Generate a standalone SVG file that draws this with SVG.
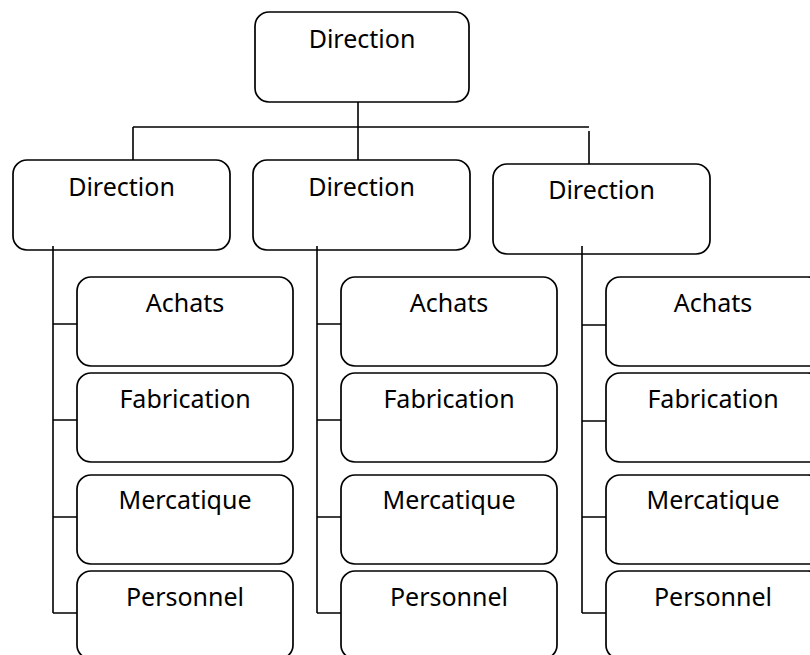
<svg xmlns="http://www.w3.org/2000/svg" width="810" height="655" viewBox="0 0 810 655">
<style>
.box{fill:#fff;stroke:#000;stroke-width:1.7}
.lbl{font-family:"Noto Sans","Open Sans",sans-serif;font-size:25px;fill:#000;text-anchor:middle}
.ln{stroke:#000;stroke-width:1.6;fill:none}
</style>
<rect width="810" height="655" fill="#fff"/>
<g id="top"><rect class="box" x="255" y="12" width="214" height="90" rx="14"/><text class="lbl" x="362" y="48">Direction</text></g>
<g id="dir1"><rect class="box" x="13" y="160" width="217" height="90" rx="14"/><text class="lbl" x="121.5" y="196">Direction</text></g>
<g id="dir2"><rect class="box" x="253" y="160" width="217" height="90" rx="14"/><text class="lbl" x="361.5" y="196">Direction</text></g>
<g id="dir3"><rect class="box" x="493" y="164" width="217" height="90" rx="14"/><text class="lbl" x="601.5" y="199">Direction</text></g>
<g id="achats1"><rect class="box" x="77" y="277" width="216" height="89" rx="14"/><text class="lbl" x="185" y="312">Achats</text></g>
<g id="fab1"><rect class="box" x="77" y="373" width="216" height="89" rx="14"/><text class="lbl" x="185" y="408">Fabrication</text></g>
<g id="merc1"><rect class="box" x="77" y="475" width="216" height="89" rx="14"/><text class="lbl" x="185" y="509">Mercatique</text></g>
<g id="pers1"><rect class="box" x="77" y="571" width="216" height="88" rx="14"/><text class="lbl" x="185" y="606">Personnel</text></g>
<g id="achats2"><rect class="box" x="341" y="277" width="216" height="89" rx="14"/><text class="lbl" x="449" y="312">Achats</text></g>
<g id="fab2"><rect class="box" x="341" y="373" width="216" height="89" rx="14"/><text class="lbl" x="449" y="408">Fabrication</text></g>
<g id="merc2"><rect class="box" x="341" y="475" width="216" height="89" rx="14"/><text class="lbl" x="449" y="509">Mercatique</text></g>
<g id="pers2"><rect class="box" x="341" y="571" width="216" height="88" rx="14"/><text class="lbl" x="449" y="606">Personnel</text></g>
<g id="achats3"><rect class="box" x="606" y="277" width="216" height="89" rx="14"/><text class="lbl" x="713" y="312">Achats</text></g>
<g id="fab3"><rect class="box" x="606" y="373" width="216" height="89" rx="14"/><text class="lbl" x="713" y="408">Fabrication</text></g>
<g id="merc3"><rect class="box" x="606" y="475" width="216" height="89" rx="14"/><text class="lbl" x="713" y="509">Mercatique</text></g>
<g id="pers3"><rect class="box" x="606" y="571" width="216" height="88" rx="14"/><text class="lbl" x="713" y="606">Personnel</text></g>
<g id="connectors">
<path class="ln" d="M358 102V160M133 127H589M133 127V160M589 131V164"/>
<path class="ln" d="M53 246V613M53 324H77M53 420H77M53 517H77M53 613H77"/>
<path class="ln" d="M317 246V613M317 324H341M317 420H341M317 517H341M317 613H341"/>
<path class="ln" d="M582 246V613M582 325H606M582 421H606M582 517H606M582 613H606"/>
</g>
</svg>
